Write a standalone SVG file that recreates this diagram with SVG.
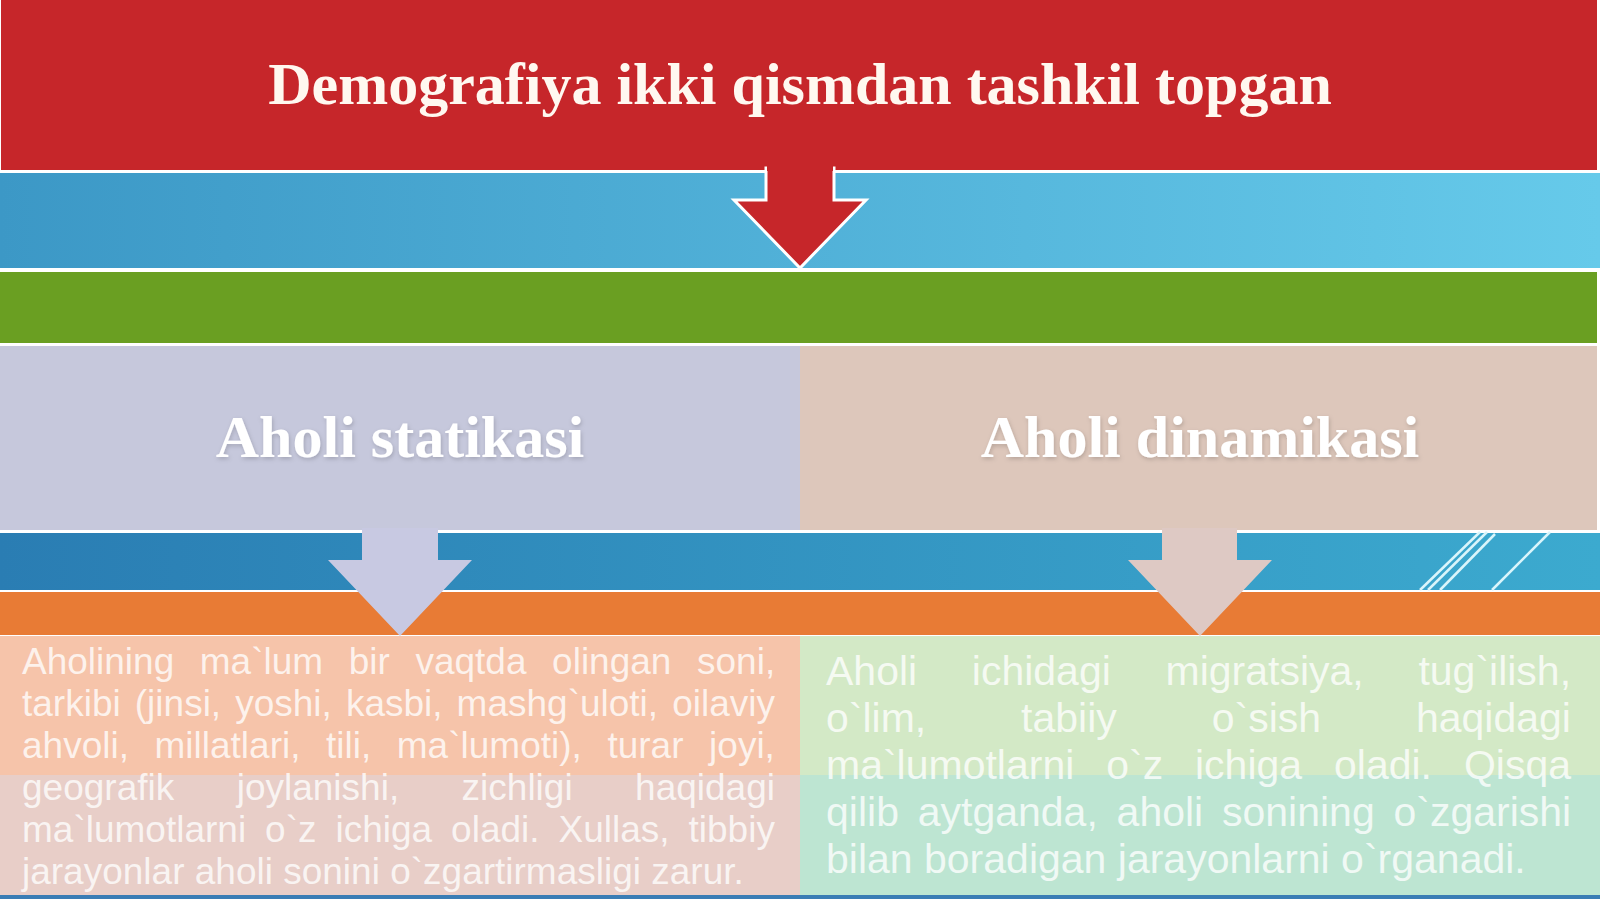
<svg xmlns="http://www.w3.org/2000/svg" width="1600" height="899" viewBox="0 0 1600 899">
<style>
.title{font-family:"Liberation Serif","Times New Roman",serif;font-weight:bold;fill:#FFF8F0;text-anchor:middle}
.head{font-family:"Liberation Serif","Times New Roman",serif;font-weight:bold;font-size:60px;fill:#FFFFFF;text-anchor:middle;filter:url(#sh)}
.body{font-family:"Liberation Sans",Arial,sans-serif;fill:#FFFFFF;fill-opacity:0.78}
.bl{font-size:37px}
.br{font-size:41px}
.deco{stroke:#D9F5FB;stroke-width:2.5;fill:none}
</style>
<defs>
<linearGradient id="gBlue1" x1="0" y1="0" x2="1" y2="0"><stop offset="0" stop-color="#3C98C6"/><stop offset="1" stop-color="#66CAEA"/></linearGradient>
<linearGradient id="gBlue2" x1="0" y1="0" x2="1" y2="0"><stop offset="0" stop-color="#2A7DB3"/><stop offset="1" stop-color="#3CAACF"/></linearGradient>
<filter id="sh" x="-10%" y="-30%" width="120%" height="160%"><feDropShadow dx="1" dy="2" stdDeviation="2" flood-color="#000" flood-opacity="0.18"/></filter>
</defs>
<rect width="1600" height="899" fill="#FFFFFF"/>

<g id="header">
<rect x="1" y="0" width="1596" height="170" fill="#C6262A"/>
<text class="title" x="800" y="104" font-size="60">Demografiya ikki qismdan tashkil topgan</text>
</g>

<g id="bands">
<rect x="0" y="173" width="1600" height="95" fill="url(#gBlue1)"/>
<rect x="0" y="272" width="1597" height="71" fill="#6A9F22"/>
<rect x="0" y="533" width="1600" height="57" fill="url(#gBlue2)"/>
<rect x="0" y="592" width="1600" height="43" fill="#E87B35"/>
<rect x="0" y="895" width="1600" height="4" fill="#3A7DB5"/>
<g id="decoration">
<line class="deco" x1="1420" y1="590" x2="1480" y2="532"/>
<line class="deco" x1="1428" y1="590" x2="1487" y2="532"/>
<line class="deco" x1="1440" y1="590" x2="1495" y2="534" stroke-width="1.5"/>
<line class="deco" x1="1492" y1="590" x2="1550" y2="532"/>
</g>
</g>

<g id="node-statika">
<rect x="0" y="346" width="800" height="184" fill="#C6C8DC"/>
<text class="head" x="400" y="457">Aholi statikasi</text>
</g>

<g id="node-dinamika">
<rect x="800" y="346" width="797" height="184" fill="#DDC7BB"/>
<text class="head" x="1200" y="457">Aholi dinamikasi</text>
</g>

<g id="connectors">
<path d="M766,168 L834,168 L834,200 L866,200 L800,268 L734,200 L766,200 Z" fill="#C6262A" stroke="#FFFFFF" stroke-width="3" stroke-linejoin="miter"/>
<rect x="767" y="165" width="66" height="6" fill="#C6262A"/>
<path d="M362,528 L438,528 L438,560 L472,560 L400,636 L328,560 L362,560 Z" fill="#C8C9E2"/>
<path d="M1162,528 L1237,528 L1237,560 L1272,560 L1200,636 L1128,560 L1162,560 Z" fill="#DEC9C4"/>
</g>

<g id="node-statika-text">
<rect x="0" y="636" width="800" height="139" fill="#F6C4AA"/>
<rect x="0" y="775" width="800" height="120" fill="#E8CEC8"/>
<g class="body bl">
<text y="674"><tspan x="22">Aholining</tspan><tspan x="199.8">ma`lum</tspan><tspan x="348.7">bir</tspan><tspan x="415.4">vaqtda</tspan><tspan x="552.1">olingan</tspan><tspan x="697">soni,</tspan></text>
<text y="716"><tspan x="22">tarkibi</tspan><tspan x="134.8">(jinsi,</tspan><tspan x="235.2">yoshi,</tspan><tspan x="345.9">kasbi,</tspan><tspan x="456.6">mashg`uloti,</tspan><tspan x="672.2">oilaviy</tspan></text>
<text y="758"><tspan x="22">ahvoli,</tspan><tspan x="154.5">millatlari,</tspan><tspan x="326">tili,</tspan><tspan x="396.8">ma`lumoti),</tspan><tspan x="607.4">turar</tspan><tspan x="709.1">joyi,</tspan></text>
<text y="800"><tspan x="22">geografik</tspan><tspan x="236.7">joylanishi,</tspan><tspan x="461.6">zichligi</tspan><tspan x="635.1">haqidagi</tspan></text>
<text y="842"><tspan x="22">ma`lumotlarni</tspan><tspan x="265.1">o`z</tspan><tspan x="335.5">ichiga</tspan><tspan x="451.1">oladi.</tspan><tspan x="558.5">Xullas,</tspan><tspan x="688.5">tibbiy</tspan></text>
<text x="22" y="884">jarayonlar aholi sonini o`zgartirmasligi zarur.</text>
</g>
</g>

<g id="node-dinamika-text">
<rect x="800" y="636" width="800" height="139" fill="#D3E9C6"/>
<rect x="800" y="775" width="800" height="120" fill="#BDE5D2"/>
<g class="body br">
<text y="685"><tspan x="826">Aholi</tspan><tspan x="971.8">ichidagi</tspan><tspan x="1165.5">migratsiya,</tspan><tspan x="1418.4">tug`ilish,</tspan></text>
<text y="732"><tspan x="826">o`lim,</tspan><tspan x="1021.1">tabiiy</tspan><tspan x="1211.7">o`sish</tspan><tspan x="1415.9">haqidagi</tspan></text>
<text y="779"><tspan x="826">ma`lumotlarni</tspan><tspan x="1106.2">o`z</tspan><tspan x="1195">ichiga</tspan><tspan x="1334">oladi.</tspan><tspan x="1463.9">Qisqa</tspan></text>
<text y="826"><tspan x="826">qilib</tspan><tspan x="917.7">aytganda,</tspan><tspan x="1116.6">aholi</tspan><tspan x="1222">sonining</tspan><tspan x="1393.5">o`zgarishi</tspan></text>
<text x="826" y="873">bilan boradigan jarayonlarni o`rganadi.</text>
</g>
</g>
</svg>
